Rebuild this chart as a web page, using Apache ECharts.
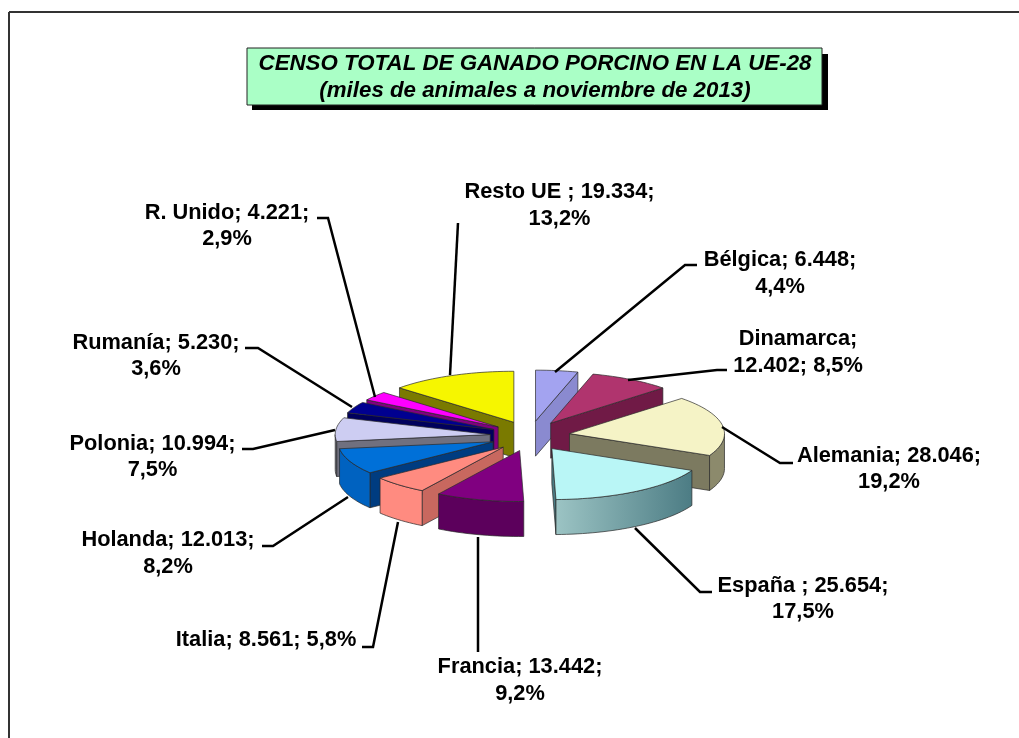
<!DOCTYPE html>
<html><head><meta charset="utf-8">
<style>html,body{margin:0;padding:0;background:#fff}#c{width:1019px;height:738px}</style>
<script src="https://cdn.jsdelivr.net/npm/echarts@6/dist/echarts.min.js"></script>
</head><body><div id="c"></div>
<script>
// ---- data (clockwise from 12 o'clock) ----
const categories = ['Bélgica','Dinamarca','Alemania','España','Francia','Italia','Holanda','Polonia','Rumanía','R. Unido','Resto UE'];
const values = [6448,12402,28046,25654,13442,8561,12013,10994,5230,4221,19334];
const labelTexts = [
  'Bélgica; 6.448;\n4,4%',
  'Dinamarca;\n12.402; 8,5%',
  'Alemania; 28.046;\n19,2%',
  'España ; 25.654;\n17,5%',
  'Francia; 13.442;\n9,2%',
  'Italia; 8.561; 5,8%',
  'Holanda; 12.013;\n8,2%',
  'Polonia; 10.994;\n7,5%',
  'Rumanía; 5.230;\n3,6%',
  'R. Unido; 4.221;\n2,9%',
  'Resto UE ; 19.334;\n13,2%'
];
const titleLines = 'CENSO TOTAL DE GANADO PORCINO EN LA UE-28\n(miles de animales a noviembre de 2013)';

// ---- styles ----
const topColors  = ['#a3a3f0','#b0346e','#f5f3c6','#b9f6f6','#800080','#ff8b80','#0070d8','#cdcdf2','#000090','#ff00ff','#f6f600'];
const arcColors  = ['#8a8ad0','#701a46','#8c8a6c',['#9cc4c4','#4c7c84'],'#5c005c','#ff8b80','#0062c0','#70707f','#00005c','#800080','#7a7a00'];
const cutColors  = ['#8a8ad0','#701a46','#7c7a60','#4c7c84','#5c005c','#c8685f','#003c80','#70707f','#00005c','#800080','#7a7a00'];
// ---- layout ----
const CX=530, CY=436, EX=40, EY=15, RX=155, RY=51, DEPTH=35;
const labelAnchors = [[780,273.5],[798,352.5],[889,469],[803,599],[520,680.5],[266,640],[168,553.5],[152.5,457],[156,356],[227,226],[559.5,205.5]];
const leaders = [
  [[697,265],[685,265],[555,372]],
  [[727,370],[717,370],[628,380]],
  [[793,463],[780,463],[722,427]],
  [[712,592],[700,592],[635,528]],
  [[478,652],[478,537]],
  [[362,647],[373,647],[398,522]],
  [[262,546],[273,546],[348,497]],
  [[242,449],[253,449],[335,430]],
  [[245,348],[258,348],[352,407]],
  [[317,218],[328,218],[375,397]],
  [[458,223],[450,375]]
];

const total = values.reduce((a,b)=>a+b,0);
const slices = []; let acc = 0;
values.forEach(v=>{const s=acc/total*360; acc+=v; slices.push({s, e:acc/total*360});});
const rad = d=>d*Math.PI/180;
slices.forEach(sl=>{const m=(sl.s+sl.e)/2; sl.depth=-Math.cos(rad(m)); sl.ax=CX+EX*Math.sin(rad(m)); sl.ay=CY-EY*Math.cos(rad(m));});
const order = slices.map((s,i)=>i).sort((a,b)=>slices[a].depth-slices[b].depth);
const rank = []; order.forEach((i,r)=>rank[i]=r);

function rim(sl,a){return [sl.ax+RX*Math.sin(rad(a)), sl.ay-RY*Math.cos(rad(a))];}
function arcPts(sl,a,b){const n=Math.max(2,Math.ceil(Math.abs(b-a)/2)),p=[];for(let i=0;i<=n;i++)p.push(rim(sl,a+(b-a)*i/n));return p;}
const down = (p)=>[p[0],p[1]+DEPTH];
const edge = {stroke:'#2a2a2a',lineWidth:0.7};

function renderItem(params){
  const i=params.dataIndex, sl=slices[i], kids=[], z=rank[i]*10+1;
  const poly=(pts,fill,zz)=>kids.push({type:'polygon',shape:{points:pts},style:Object.assign({fill},edge),z2:zz});
  const apex=[sl.ax,sl.ay];
  if(Math.sin(rad(sl.s))<0){const r=rim(sl,sl.s);poly([apex,r,down(r),down(apex)],cutColors[i],z);}
  if(Math.sin(rad(sl.e))>0.01){const r=rim(sl,sl.e);poly([apex,r,down(r),down(apex)],cutColors[i],z);}
  const a=Math.max(sl.s,90), b=Math.min(sl.e,270);
  if(b>a){
    const top=arcPts(sl,a,b), bot=top.map(down).reverse();
    const c=arcColors[i];
    const fill=Array.isArray(c)?{type:'linear',x:0,y:0,x2:1,y2:0,colorStops:[{offset:0,color:c[0]},{offset:1,color:c[1]}]}:c;
    poly(top.concat(bot),fill,z+1);
  }
  poly([apex].concat(arcPts(sl,sl.s,sl.e)),topColors[i],z+2);
  kids.push({type:'polyline',shape:{points:leaders[i]},style:{stroke:'#000',lineWidth:2.5,fill:null},z2:500});
  kids.push({type:'text',x:labelAnchors[i][0],y:labelAnchors[i][1],z2:600,
    style:{text:labelTexts[i],fill:'#000',font:'bold 21.8px "Liberation Sans"',align:'center',verticalAlign:'middle',lineHeight:26.5}});
  return {type:'group',children:kids};
}

const chart = echarts.init(document.getElementById('c'),null,{renderer:'canvas'});
chart.setOption({
  animation:false, backgroundColor:'#fff',
  graphic:[
    {type:'line',shape:{x1:9,y1:12,x2:1019,y2:12},style:{stroke:'#333',lineWidth:2},z:1},
    {type:'line',shape:{x1:9,y1:12,x2:9,y2:738},style:{stroke:'#333',lineWidth:2},z:1},
    {type:'rect',shape:{x:252,y:54,width:576,height:56},style:{fill:'#000'},z:2},
    {type:'rect',shape:{x:247,y:48,width:575,height:57},style:{fill:'#aaffc6',stroke:'#222',lineWidth:1},z:3},
    {type:'text',x:535,y:77.5,z:4,style:{text:titleLines,fill:'#000',font:'italic bold 22.3px "Liberation Sans"',align:'center',verticalAlign:'middle',lineHeight:27}}
  ],
  series:[{type:'custom',coordinateSystem:'none',data:values.map((v,i)=>({name:categories[i],value:v})),renderItem}]
});
</script></body></html>
